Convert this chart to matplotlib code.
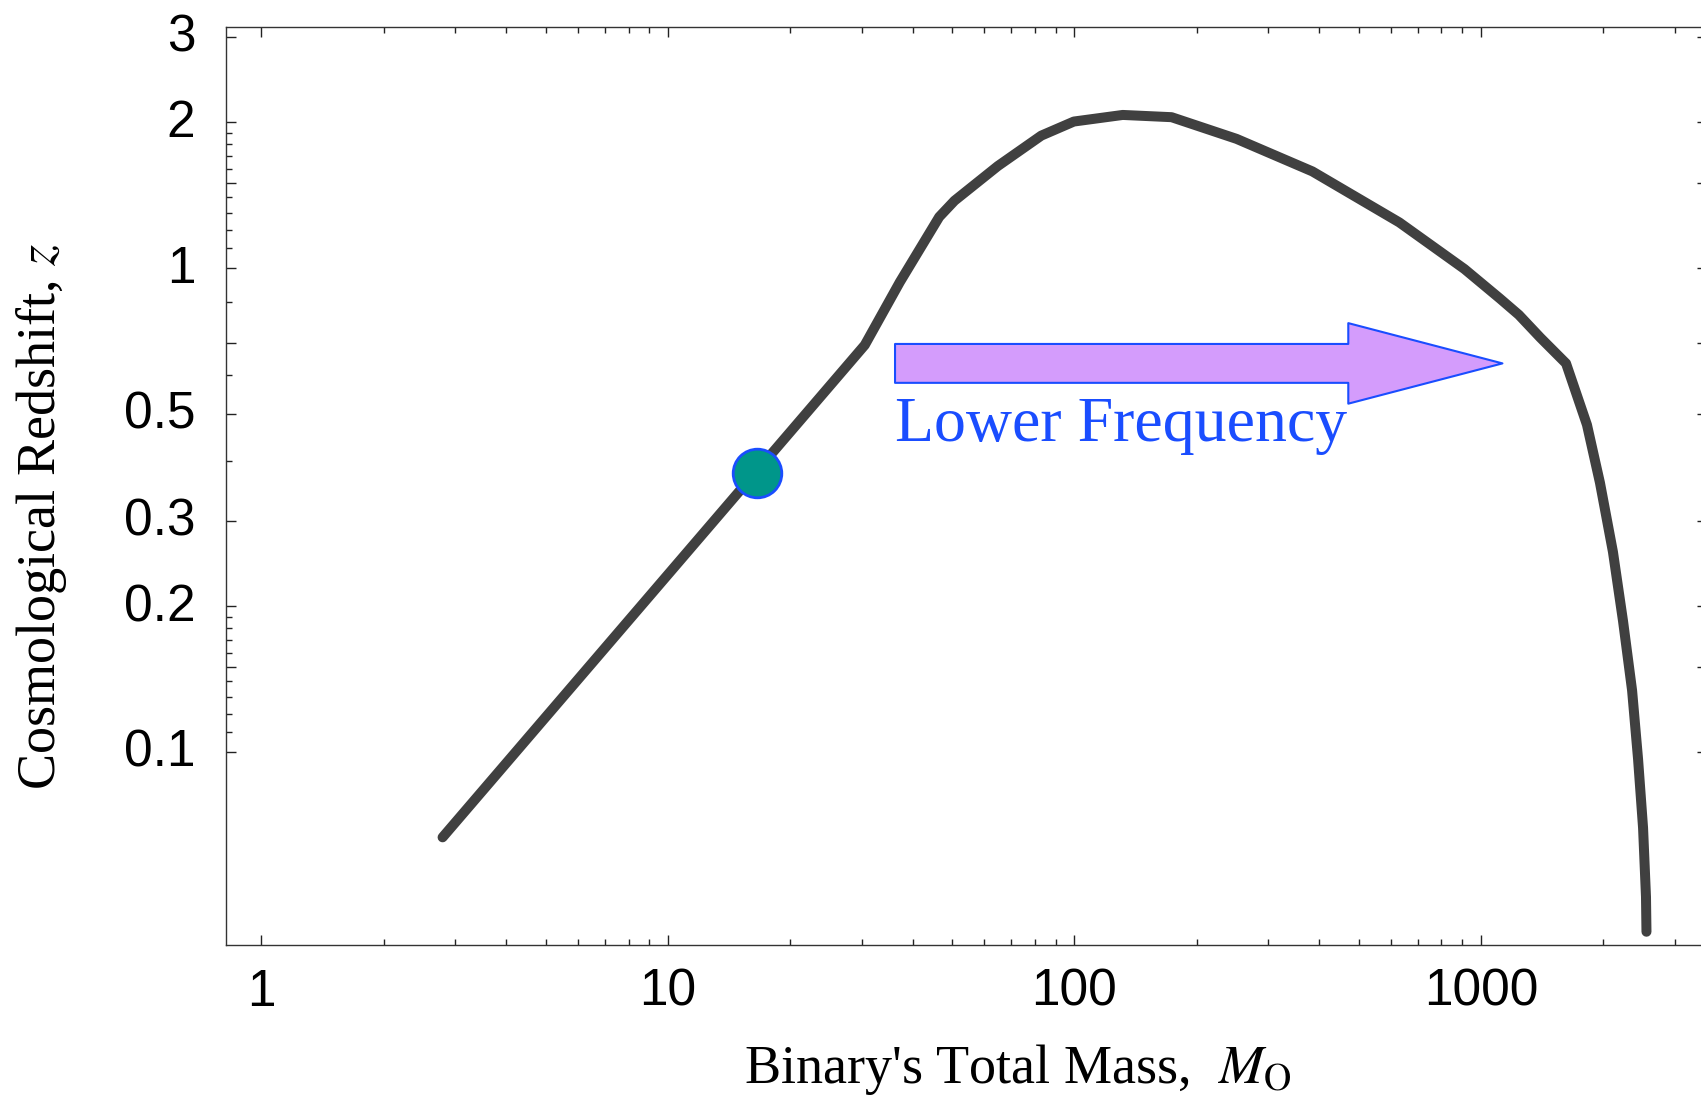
import numpy as np
import matplotlib
matplotlib.use("Agg")
import matplotlib.pyplot as plt
from matplotlib.transforms import ScaledTranslation

plt.rcParams['font.family'] = ['Liberation Sans', 'DejaVu Sans']
plt.rcParams['mathtext.fontset'] = 'stix'

# curve (total mass in solar masses, redshift)
mass = [2.79, 30.5, 37.2, 46.5, 50.7, 64.8, 82.9, 99.7, 131.5, 173.4, 250.6, 385, 630, 911,
        1113, 1240, 1400, 1620, 1824, 1963, 2113, 2237, 2355, 2436, 2506, 2548, 2555]
redshift = [0.0666, 0.693, 0.935, 1.275, 1.377, 1.624, 1.877, 2.007, 2.071, 2.049, 1.848, 1.583, 1.242, 0.995,
            0.865, 0.80, 0.718, 0.635, 0.474, 0.36, 0.259, 0.1865, 0.134, 0.0967, 0.0697, 0.0502, 0.0425]

marker_mass = [16.56]
marker_z = [0.377]

arrow_start = (36.2, 0.635)
arrow_end = (1130, 0.635)
arrow_text = "Lower Frequency"
text_pos = (36.2, 0.438)

x_major = [1, 10, 100, 1000]
x_labels = ["1", "10", "100", "1000"]
x_minor = [m * d for d in (1, 10, 100) for m in range(2, 10)] + [2000, 3000]

y_major = [0.1, 0.15, 0.2, 0.3, 0.5, 0.7, 1, 1.5, 2, 3]
y_labels = ["0.1", "", "0.2", "0.3", "0.5", "", "1", "", "2", "3"]
y_minor = [0.11, 0.12, 0.13, 0.14, 0.16, 0.17, 0.18, 0.19, 0.4, 0.6, 0.85,
           1.1, 1.2, 1.3, 1.4, 1.6, 1.7, 1.8, 1.9]

fig = plt.figure(figsize=(17.01, 10.95), dpi=100)
ax = fig.add_axes([226 / 1701, 150 / 1095, 1481 / 1701, 918 / 1095])
ax.set_xscale('log')
ax.set_yscale('log')
ax.set_xlim(0.818, 3600)
ax.set_ylim(0.0399, 3.147)

ax.plot(mass, redshift, color='#404040', lw=7.2, solid_capstyle='round', solid_joinstyle='round', zorder=2)
ax.plot(marker_mass, marker_z, 'o', ms=35, mfc='#00968a', mec='#1a4dff', mew=2.0, zorder=3)

ax.annotate("", xy=arrow_end, xytext=arrow_start,
            arrowprops=dict(arrowstyle="simple,head_length=111,head_width=58,tail_width=28",
                            mutation_scale=1, fc='#d49cfc', ec='#1a4dff', lw=1.5,
                            shrinkA=0, shrinkB=0))
ax.text(*text_pos, arrow_text, family='Liberation Serif', fontsize=46, color='#1a4dff',
        ha='left', va='baseline')

ax.set_xticks(x_major)
ax.set_xticklabels(x_labels)
ax.set_xticks(x_minor, minor=True)
ax.set_xticklabels([], minor=True)
ax.set_yticks(y_major)
ax.set_yticklabels(y_labels)
ax.set_yticks(y_minor, minor=True)
ax.set_yticklabels([], minor=True)

ax.tick_params(which='both', direction='in', top=True, right=True, width=1.0, color='#222222')
ax.tick_params(which='major', length=7.2, labelsize=37)
ax.tick_params(which='minor', length=4.3)
ax.tick_params(axis='y', which='major', pad=22)
ax.tick_params(axis='x', which='major', pad=16.5)
for s in ax.spines.values():
    s.set_linewidth(1.0)
    s.set_color('#333333')

# nudge y tick labels up a little
shift = ScaledTranslation(0, 3 / 72, fig.dpi_scale_trans)
for lab in ax.get_yticklabels():
    lab.set_transform(lab.get_transform() + shift)

ax.set_xlabel(r"Binary's Total Mass,  $M_{\mathrm{O}}$", family='Liberation Serif', fontsize=39)
ax.xaxis.set_label_coords(0.5348, -0.106)
ax.set_ylabel(r"Cosmological Redshift, $z$", family='Liberation Serif', fontsize=39)
ax.yaxis.set_label_coords(-0.1060, 0.4668)

fig.savefig("out.png", dpi=100)
